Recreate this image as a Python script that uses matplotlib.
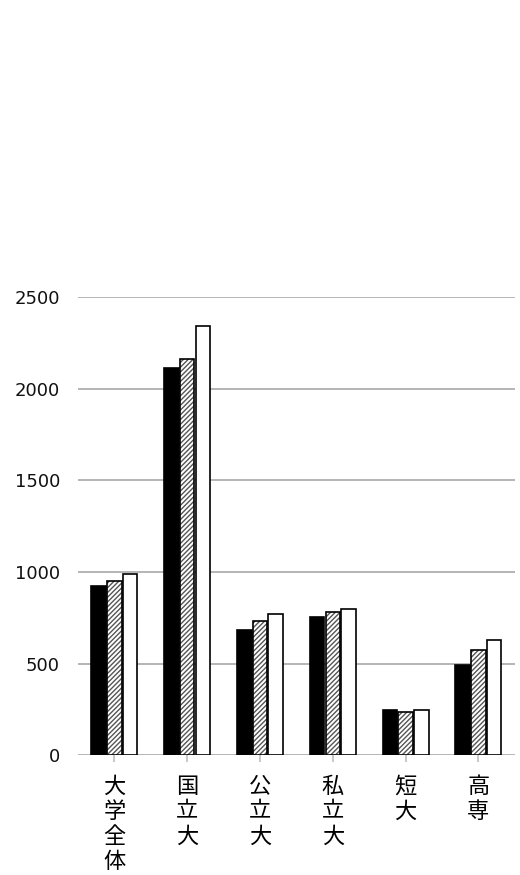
import numpy as np
import matplotlib
matplotlib.use('Agg')
import matplotlib.pyplot as plt

plt.rcParams['font.family'] = ['Noto Sans CJK JP', 'DejaVu Sans']
plt.rcParams['hatch.linewidth'] = 1.0

categories = ['大学全体', '国立大', '公立大', '私立大', '短大', '高専']
series_a = [924, 2114, 682, 752, 249, 490]   # black
series_b = [950, 2163, 730, 779, 236, 575]   # hatched
series_c = [988, 2345, 770, 797, 246, 628]   # white

fig = plt.figure(figsize=(5.2, 8.75), dpi=100)
ax = fig.add_axes([0.15, 0.137, 0.84, 0.5234])

x = np.arange(len(categories))
w = 0.215
bw = w * 0.93
ax.bar(x - w, series_a, bw, color='black', edgecolor='black', linewidth=1.2, zorder=3)
# hatched bar: grey hatch, then black outline on top
ax.bar(x, series_b, bw, color='white', edgecolor='#555555', hatch='///////', linewidth=0, zorder=3)
ax.bar(x, series_b, bw, fill=False, edgecolor='black', linewidth=1.2, zorder=4)
ax.bar(x + w, series_c, bw, color='white', edgecolor='black', linewidth=1.2, zorder=3)

ax.set_xlim(-0.5, len(categories) - 0.5)
ax.set_ylim(0, 2500)
ax.set_yticks([0, 500, 1000, 1500, 2000, 2500])
ax.yaxis.grid(True, color='#b4b4b4', linewidth=1.4, zorder=0)
ax.set_axisbelow(True)
for s in ax.spines.values():
    s.set_visible(False)
ax.tick_params(axis='y', length=0, pad=13, labelcolor='#111111')
for lbl in ax.get_yticklabels():
    lbl.set_fontfamily('DejaVu Sans')
    lbl.set_fontsize(13)

ax.set_xticks(x)
ax.set_xticklabels(['\n'.join(c) for c in categories], fontsize=16, linespacing=1.12)
ax.tick_params(axis='x', length=5, color='#c8c8c8', width=1.4, pad=9)
for lbl in ax.get_xticklabels():
    lbl.set_verticalalignment('top')

fig.savefig('out.png', dpi=100)
